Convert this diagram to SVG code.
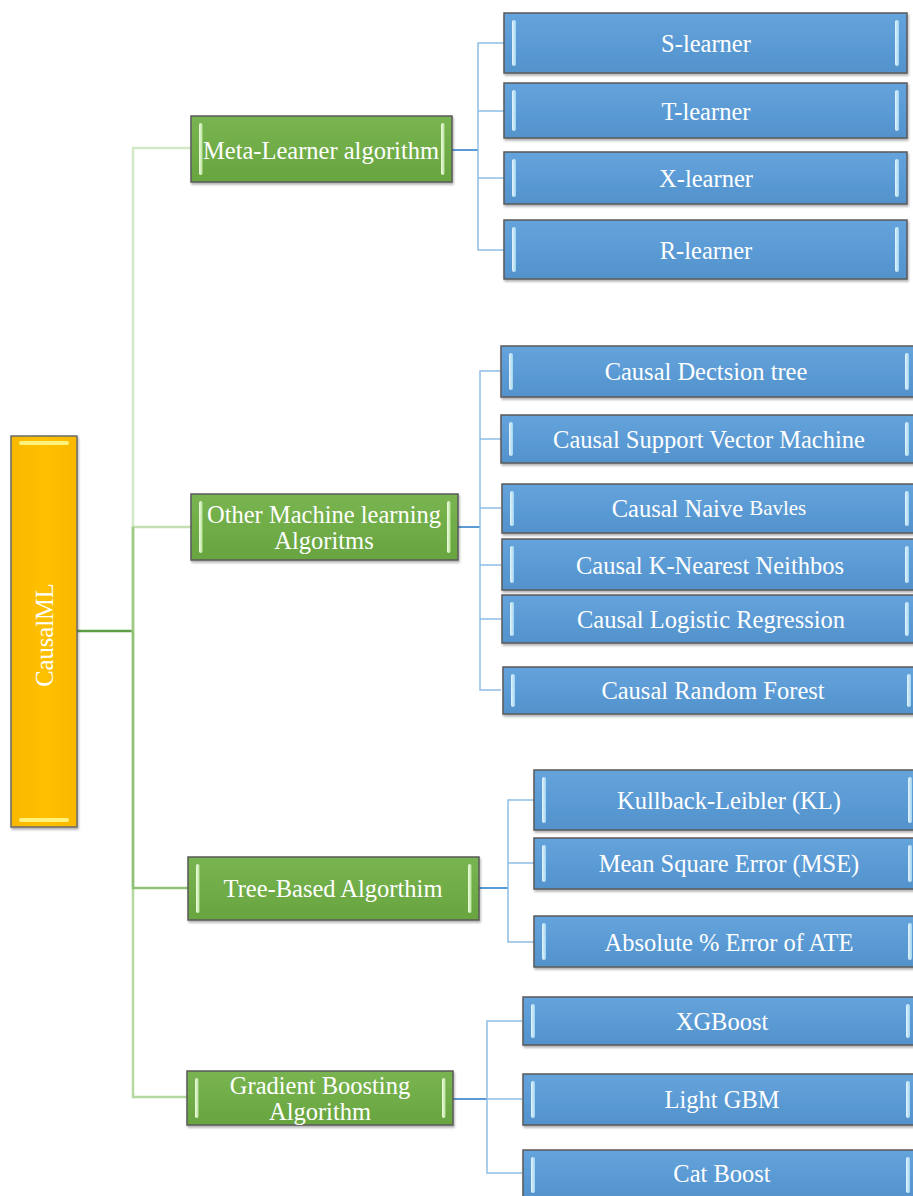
<svg xmlns="http://www.w3.org/2000/svg" width="913" height="1196" viewBox="0 0 913 1196">
<defs>
<linearGradient id="gBlue" x1="0" y1="0" x2="0" y2="1">
<stop offset="0" stop-color="#65a3db"/><stop offset="0.5" stop-color="#5b9bd5"/><stop offset="1" stop-color="#5392cb"/>
</linearGradient>
<linearGradient id="gGreen" x1="0" y1="0" x2="0" y2="1">
<stop offset="0" stop-color="#79b452"/><stop offset="0.5" stop-color="#70ad47"/><stop offset="1" stop-color="#68a440"/>
</linearGradient>
<linearGradient id="gOrange" x1="0" y1="0" x2="1" y2="0">
<stop offset="0" stop-color="#f7b800"/><stop offset="0.5" stop-color="#ffc000"/><stop offset="1" stop-color="#f7b800"/>
</linearGradient>
<linearGradient id="hlB" x1="0" y1="0" x2="1" y2="0">
<stop offset="0" stop-color="#e4f5fd"/><stop offset="1" stop-color="#9fd3f0"/>
</linearGradient>
<linearGradient id="hlG" x1="0" y1="0" x2="1" y2="0">
<stop offset="0" stop-color="#f0fbe2"/><stop offset="1" stop-color="#b9e29a"/>
</linearGradient>
<filter id="sh" x="-5%" y="-10%" width="110%" height="130%">
<feDropShadow dx="1" dy="2" stdDeviation="1.2" flood-color="#000" flood-opacity="0.3"/>
</filter>
</defs>
<style>
.blue{fill:url(#gBlue);stroke:#5a5a5a;stroke-width:1.5;filter:url(#sh)}
.green{fill:url(#gGreen);stroke:#5a5a5a;stroke-width:1.5;filter:url(#sh)}
.orange{fill:url(#gOrange);stroke:#6a6a6a;stroke-width:1.5;filter:url(#sh)}
.hb{fill:url(#hlB)}
.hg{fill:url(#hlG)}
.ho{fill:#fff27a}
.t{font-family:"Liberation Serif","Times New Roman",serif;font-size:24.5px;fill:#ffffff;text-anchor:middle;dominant-baseline:central}
.cb{fill:none;stroke:#5b9bd5;stroke-width:2}
.cb2{fill:none;stroke:#8fbde6;stroke-width:1.5}
</style>

<g id="connectors">
<path d="M77,631 H133" fill="none" stroke="#5e9f45" stroke-width="2.5"/>
<path d="M133,631 V148 H191" fill="none" stroke="#d3e8c6" stroke-width="2.5"/>
<path d="M133,631 V527 H191" fill="none" stroke="#c4e0b2" stroke-width="2.5"/>
<path d="M133,527 V631" fill="none" stroke="#9fcb85" stroke-width="2.5"/>
<path d="M133,631 V1097 H187" fill="none" stroke="#b5d9a0" stroke-width="2.5"/>
<path d="M133,631 V888 H188" fill="none" stroke="#8fc274" stroke-width="2.5"/>

<path class="cb" d="M452,150 H478"/>
<path class="cb2" d="M504,43 H478 V250 H504 M478,111 H504 M478,178 H504"/>

<path class="cb" d="M458,527 H480"/>
<path class="cb2" d="M501,371 H480 V690 H501 M480,439 H501 M480,508 H501 M480,565 H501 M480,619 H501"/>

<path class="cb" d="M479,888 H508"/>
<path class="cb2" d="M534,800 H508 V942 H534 M508,863 H534"/>

<path class="cb" d="M453,1099 H487"/>
<path class="cb2" d="M522,1021 H487 V1173 H522 M487,1099 H522"/>
</g>

<g id="n-causalml">
<rect class="orange" x="11" y="436" width="66" height="391"/>
<rect class="ho" x="19" y="441" width="50" height="4" rx="2"/>
<rect class="ho" x="19" y="818" width="50" height="4" rx="2"/>
<text class="t" transform="translate(44,635) rotate(-90)">CausalML</text>
</g>

<g id="n-meta">
<rect class="green" x="191" y="116" width="261" height="66"/>
<rect class="hg" x="199" y="123" width="3.5" height="52" rx="1.7"/>
<rect class="hg" x="441" y="123" width="3.5" height="52" rx="1.7"/>
<text class="t" x="321" y="150">Meta-Learner algorithm</text>
</g>

<g id="n-other">
<rect class="green" x="191" y="494" width="267" height="66"/>
<rect class="hg" x="199" y="501" width="3.5" height="52" rx="1.7"/>
<rect class="hg" x="447" y="501" width="3.5" height="52" rx="1.7"/>
<text class="t" x="324" y="514">Other Machine learning</text>
<text class="t" x="324" y="540">Algoritms</text>
</g>

<g id="n-tree">
<rect class="green" x="188" y="857" width="291" height="63"/>
<rect class="hg" x="196" y="864" width="3.5" height="49" rx="1.7"/>
<rect class="hg" x="468" y="864" width="3.5" height="49" rx="1.7"/>
<text class="t" x="333" y="888">Tree-Based Algorthim</text>
</g>

<g id="n-gradient">
<rect class="green" x="187" y="1071" width="266" height="54"/>
<rect class="hg" x="195" y="1078" width="3.5" height="40" rx="1.7"/>
<rect class="hg" x="442" y="1078" width="3.5" height="40" rx="1.7"/>
<text class="t" x="320" y="1085">Gradient Boosting</text>
<text class="t" x="320" y="1111">Algorithm</text>
</g>

<g id="n-s">
<rect class="blue" x="504" y="13" width="403" height="60"/>
<rect class="hb" x="512" y="20" width="4" height="46" rx="2"/>
<rect class="hb" x="895" y="20" width="4" height="46" rx="2"/>
<text class="t" x="706" y="43">S-learner</text>
</g>
<g id="n-t">
<rect class="blue" x="504" y="83" width="403" height="55"/>
<rect class="hb" x="512" y="90" width="4" height="41" rx="2"/>
<rect class="hb" x="895" y="90" width="4" height="41" rx="2"/>
<text class="t" x="706" y="111">T-learner</text>
</g>
<g id="n-x">
<rect class="blue" x="504" y="152" width="403" height="52"/>
<rect class="hb" x="512" y="159" width="4" height="38" rx="2"/>
<rect class="hb" x="895" y="159" width="4" height="38" rx="2"/>
<text class="t" x="706" y="178">X-learner</text>
</g>
<g id="n-r">
<rect class="blue" x="504" y="220" width="403" height="59"/>
<rect class="hb" x="512" y="227" width="4" height="45" rx="2"/>
<rect class="hb" x="895" y="227" width="4" height="45" rx="2"/>
<text class="t" x="706" y="250">R-learner</text>
</g>

<g id="n-dt">
<rect class="blue" x="501" y="346" width="424" height="51"/>
<rect class="hb" x="509" y="353" width="4" height="37" rx="2"/>
<rect class="hb" x="905" y="353" width="4" height="37" rx="2"/>
<text class="t" x="706" y="371">Causal Dectsion tree</text>
</g>
<g id="n-svm">
<rect class="blue" x="501" y="415" width="424" height="48"/>
<rect class="hb" x="509" y="422" width="4" height="34" rx="2"/>
<rect class="hb" x="905" y="422" width="4" height="34" rx="2"/>
<text class="t" x="709" y="439">Causal Support Vector Machine</text>
</g>
<g id="n-nb">
<rect class="blue" x="502" y="484" width="423" height="49"/>
<rect class="hb" x="510" y="491" width="4" height="35" rx="2"/>
<rect class="hb" x="905" y="491" width="4" height="35" rx="2"/>
<text class="t" x="709" y="508">Causal Naive <tspan font-size="21">Bavles</tspan></text>
</g>
<g id="n-knn">
<rect class="blue" x="502" y="539" width="423" height="51"/>
<rect class="hb" x="510" y="546" width="4" height="37" rx="2"/>
<rect class="hb" x="905" y="546" width="4" height="37" rx="2"/>
<text class="t" x="710" y="565">Causal K-Nearest Neithbos</text>
</g>
<g id="n-lr">
<rect class="blue" x="502" y="595" width="423" height="48"/>
<rect class="hb" x="510" y="602" width="4" height="34" rx="2"/>
<rect class="hb" x="905" y="602" width="4" height="34" rx="2"/>
<text class="t" x="711" y="619">Causal Logistic Regression</text>
</g>
<g id="n-rf">
<rect class="blue" x="503" y="667" width="422" height="47"/>
<rect class="hb" x="511" y="674" width="4" height="33" rx="2"/>
<rect class="hb" x="907" y="674" width="4" height="33" rx="2"/>
<text class="t" x="713" y="690">Causal Random Forest</text>
</g>

<g id="n-kl">
<rect class="blue" x="534" y="770" width="392" height="60"/>
<rect class="hb" x="542" y="777" width="4" height="46" rx="2"/>
<rect class="hb" x="908" y="777" width="4" height="46" rx="2"/>
<text class="t" x="729" y="800">Kullback-Leibler (KL)</text>
</g>
<g id="n-mse">
<rect class="blue" x="534" y="838" width="392" height="51"/>
<rect class="hb" x="542" y="845" width="4" height="37" rx="2"/>
<rect class="hb" x="908" y="845" width="4" height="37" rx="2"/>
<text class="t" x="729" y="863">Mean Square Error (MSE)</text>
</g>
<g id="n-ate">
<rect class="blue" x="534" y="916" width="392" height="51"/>
<rect class="hb" x="542" y="923" width="4" height="37" rx="2"/>
<rect class="hb" x="908" y="923" width="4" height="37" rx="2"/>
<text class="t" x="729" y="942">Absolute % Error of ATE</text>
</g>

<g id="n-xgb">
<rect class="blue" x="523" y="997" width="400" height="48"/>
<rect class="hb" x="531" y="1004" width="4" height="34" rx="2"/>
<rect class="hb" x="906" y="1004" width="4" height="34" rx="2"/>
<text class="t" x="722" y="1021">XGBoost</text>
</g>
<g id="n-lgbm">
<rect class="blue" x="523" y="1074" width="400" height="51"/>
<rect class="hb" x="531" y="1081" width="4" height="37" rx="2"/>
<rect class="hb" x="906" y="1081" width="4" height="37" rx="2"/>
<text class="t" x="722" y="1099">Light GBM</text>
</g>
<g id="n-cat">
<rect class="blue" x="523" y="1150" width="400" height="50"/>
<rect class="hb" x="531" y="1157" width="4" height="36" rx="2"/>
<rect class="hb" x="906" y="1157" width="4" height="36" rx="2"/>
<text class="t" x="722" y="1173">Cat Boost</text>
</g>
</svg>
